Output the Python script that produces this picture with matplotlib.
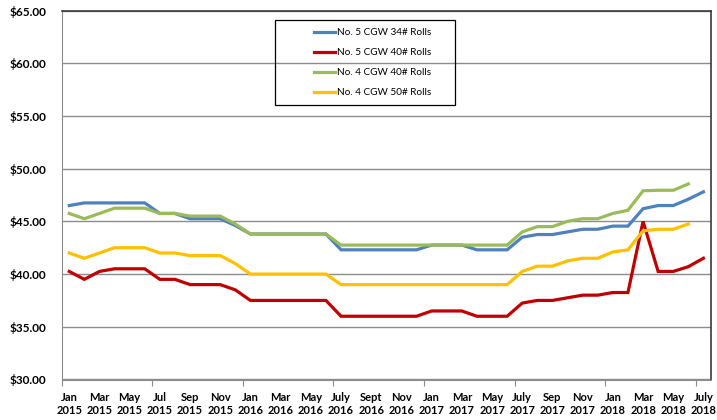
import numpy as np
import matplotlib
matplotlib.use("Agg")
import matplotlib.pyplot as plt
from matplotlib.patches import Rectangle

plt.rcParams['font.family'] = ['Lato', 'DejaVu Sans']

# monthly prices, Jan 2015 .. July 2018 (43 months)
months = ["Jan\n2015", "Feb\n2015", "Mar\n2015", "Apr\n2015", "May\n2015", "Jun\n2015",
          "Jul\n2015", "Aug\n2015", "Sep\n2015", "Oct\n2015", "Nov\n2015", "Dec\n2015",
          "Jan\n2016", "Feb\n2016", "Mar\n2016", "Apr\n2016", "May\n2016", "Jun\n2016",
          "July\n2016", "Aug\n2016", "Sept\n2016", "Oct\n2016", "Nov\n2016", "Dec\n2016",
          "Jan\n2017", "Feb\n2017", "Mar\n2017", "Apr\n2017", "May\n2017", "Jun\n2017",
          "July\n2017", "Aug\n2017", "Sep\n2017", "Oct\n2017", "Nov\n2017", "Dec\n2017",
          "Jan\n2018", "Feb\n2018", "Mar\n2018", "Apr\n2018", "May\n2018", "Jun\n2018",
          "July\n2018"]

no5_34 = [46.5, 46.75, 46.75, 46.75, 46.75, 46.75, 45.75, 45.75, 45.25, 45.25, 45.25, 44.6,
          43.8, 43.8, 43.8, 43.8, 43.8, 43.8, 42.3, 42.3, 42.3, 42.3, 42.3, 42.3,
          42.75, 42.75, 42.75, 42.3, 42.3, 42.3, 43.5, 43.75, 43.75, 44.0, 44.25, 44.25,
          44.55, 44.55, 46.2, 46.5, 46.5, 47.1, 47.8]
no5_40 = [40.25, 39.5, 40.25, 40.5, 40.5, 40.5, 39.5, 39.5, 39.0, 39.0, 39.0, 38.5,
          37.5, 37.5, 37.5, 37.5, 37.5, 37.5, 36.0, 36.0, 36.0, 36.0, 36.0, 36.0,
          36.5, 36.5, 36.5, 36.0, 36.0, 36.0, 37.25, 37.5, 37.5, 37.75, 38.0, 38.0,
          38.25, 38.25, 45.0, 40.25, 40.25, 40.7, 41.5]
no4_40 = [45.75, 45.25, 45.75, 46.25, 46.25, 46.25, 45.75, 45.75, 45.5, 45.5, 45.5, 44.75,
          43.8, 43.8, 43.8, 43.8, 43.8, 43.8, 42.75, 42.75, 42.75, 42.75, 42.75, 42.75,
          42.75, 42.75, 42.75, 42.75, 42.75, 42.75, 44.0, 44.5, 44.5, 45.0, 45.25, 45.25,
          45.75, 46.05, 47.9, 47.95, 47.95, 48.55, np.nan]
no4_50 = [42.0, 41.5, 42.0, 42.5, 42.5, 42.5, 42.0, 42.0, 41.75, 41.75, 41.75, 41.0,
          40.0, 40.0, 40.0, 40.0, 40.0, 40.0, 39.0, 39.0, 39.0, 39.0, 39.0, 39.0,
          39.0, 39.0, 39.0, 39.0, 39.0, 39.0, 40.25, 40.75, 40.75, 41.25, 41.5, 41.5,
          42.1, 42.3, 44.1, 44.25, 44.25, 44.75, np.nan]

series = [("No. 5 CGW 34# Rolls", no5_34, "#4F81BD"),
          ("No. 5 CGW 40# Rolls", no5_40, "#C00000"),
          ("No. 4 CGW 40# Rolls", no4_40, "#9BBB59"),
          ("No. 4 CGW 50# Rolls", no4_50, "#FFC000")]

fig = plt.figure(figsize=(7.17, 4.2), dpi=100)
ax = fig.add_axes([61.7/717, 1-379.5/420, (711-61.7)/717, (379.5-10.5)/420])

x = np.arange(len(months))
for name, vals, col in series:
    ax.plot(x, vals, color=col, lw=2.3, label=name, solid_joinstyle='miter')

ax.set_xlim(-0.5, len(months)-0.5)
ax.set_ylim(30, 65)
ax.set_yticks(np.arange(30, 66, 5))
ax.set_yticklabels(["$%.2f" % v for v in np.arange(30, 66, 5)])
ax.yaxis.grid(True, color="#8c8c8c", lw=1.0)
ax.set_axisbelow(True)
ax.tick_params(axis='y', length=0, pad=11, labelsize=8.5)
for lab in ax.get_yticklabels():
    lab.set_fontweight('bold')

# tick marks every 6 months between categories, labels every 2 months
ax.set_xticks(np.arange(-0.5, len(months), 6))
ax.set_xticklabels([])
ax.set_xticks(x[::2], minor=True)
ax.set_xticklabels(months[::2], minor=True, fontweight='bold', fontsize=8, linespacing=1.25)
ax.tick_params(axis='x', which='major', length=4, color="#8c8c8c")
ax.tick_params(axis='x', which='minor', length=0, pad=9)

for s in ['left', 'bottom']:
    ax.spines[s].set_color("#8c8c8c")
for s in ['top', 'right']:
    ax.spines[s].set_color("#3a3a3a")
    ax.spines[s].set_linewidth(1.2)

leg = ax.legend(loc='center', bbox_to_anchor=(373/717, 1-62.5/420), bbox_transform=fig.transFigure,
                frameon=False, fontsize=7.2, handlelength=2.1, handletextpad=0.2, labelspacing=1.1)
fig.patches.append(Rectangle((275/717, 1-105/420), 180/717, 85/420, transform=fig.transFigure,
                             fill=False, edgecolor='black', lw=0.9, zorder=5))

fig.savefig("out.png", dpi=100)
